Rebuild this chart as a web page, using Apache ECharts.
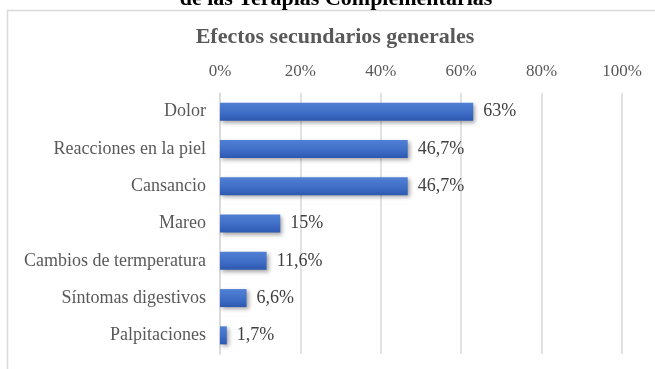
<!DOCTYPE html>
<html><head><meta charset="utf-8">
<script src="https://cdn.jsdelivr.net/npm/echarts@6/dist/echarts.min.js"></script>
<style>html,body{margin:0;padding:0;background:#fff}#c{width:655px;height:369px}</style>
</head><body><div id="c"></div>
<script>
const categories = ["Dolor","Reacciones en la piel","Cansancio","Mareo","Cambios de termperatura","Síntomas digestivos","Palpitaciones"];
const values = [63, 46.7, 46.7, 15, 11.6, 6.6, 1.7];
const valueLabels = ["63%","46,7%","46,7%","15%","11,6%","6,6%","1,7%"];
const tickValues = [0,20,40,60,80,100];

const chart = echarts.init(document.getElementById('c'));
const serif = '"Liberation Serif","Times New Roman",serif';
chart.setOption({
  animation:false,
  graphic:[
    {type:'rect', shape:{x:7.5,y:10.5,width:700,height:400}, style:{fill:'none',stroke:'#d9d9d9',lineWidth:1.5}, z:-1},
    {type:'text', x:336, y:10, style:{text:'de las Terapias Complementarias', font:'bold 22px '+serif, fill:'#000', textAlign:'center', textVerticalAlign:'bottom'}},
    {type:'text', x:335, y:37, style:{text:'Efectos secundarios generales', font:'bold 22px '+serif, fill:'#595959', textAlign:'center', textVerticalAlign:'middle'}}
  ],
  grid:{left:220, right:33, top:93, height:261, containLabel:false},
  xAxis:{type:'value', position:'top', min:0, max:100, interval:20,
    axisLabel:{formatter:v=>v+'%', fontFamily:serif, fontSize:17, color:'#595959', margin:13},
    axisLine:{show:false}, axisTick:{show:false},
    splitLine:{lineStyle:{color:'#d9d9d9', width:1.5}}},
  yAxis:{type:'category', data:categories, inverse:true,
    axisLabel:{fontFamily:serif, fontSize:18, color:'#595959', margin:14},
    axisLine:{show:true, lineStyle:{color:'#d9d9d9', width:1.5}}, axisTick:{show:false}},
  series:[{type:'bar', data:values, barWidth:18,
    itemStyle:{color:new echarts.graphic.LinearGradient(0,0,0,1,[{offset:0,color:'#5080d6'},{offset:0.5,color:'#4270c8'},{offset:1,color:'#2c58b0'}]),
      shadowColor:'rgba(0,0,0,0.35)', shadowBlur:4, shadowOffsetX:2, shadowOffsetY:2},
    label:{show:true, position:'right', distance:10, formatter:p=>valueLabels[p.dataIndex],
      fontFamily:serif, fontSize:18, color:'#404040'}}]
});
</script></body></html>
